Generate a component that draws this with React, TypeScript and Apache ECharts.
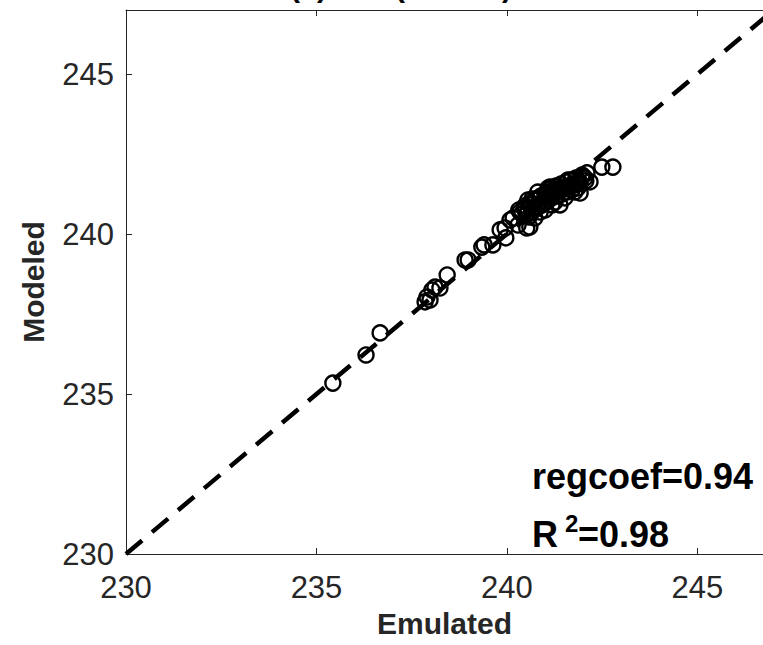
import React, { useEffect, useRef } from "react";
import * as echarts from "echarts";

const emulated = [
  235.43, 236.3, 236.67, 237.85, 237.9, 237.98, 238.03, 238.11, 238.24, 238.43,
  238.9, 238.98, 239.34, 239.4, 239.63, 239.82, 239.95, 239.97, 240.08, 240.16,
  240.29, 240.52, 240.6, 240.34, 240.45, 240.5, 240.6, 240.66, 240.73, 240.79,
  240.87, 240.92, 241.0, 241.05, 241.13, 241.18, 241.26, 241.31, 241.39, 241.44,
  241.52, 241.57, 241.65, 241.71, 241.78, 241.86, 241.92, 242.05, 242.1, 242.18,
  242.49, 242.78, 240.73, 241.0, 241.26, 241.08, 240.81, 240.55, 241.39, 241.92,
  240.66, 241.13, 241.6, 241.97,
  240.31, 240.39, 240.47, 240.55, 240.63, 240.71, 240.76, 240.84, 240.89, 240.97,
  241.02, 241.1, 241.15, 241.23, 241.29, 241.36, 241.42, 241.5, 241.55, 241.63,
  241.68, 241.76, 241.81, 241.89, 241.99, 242.07, 240.58, 240.87, 241.18, 241.52,
  241.78,
];
const modeled = [
  235.34, 236.22, 236.91, 237.88, 238.03, 237.94, 238.25, 238.34, 238.31, 238.72,
  239.19, 239.19, 239.59, 239.66, 239.66, 240.13, 240.19, 239.88, 240.44, 240.5,
  240.28, 240.19, 240.22, 240.69, 240.81, 240.59, 240.91, 240.69, 241.06, 240.81,
  241.13, 240.91, 241.22, 241.0, 241.31, 241.13, 241.38, 241.19, 241.44, 241.25,
  241.47, 241.31, 241.5, 241.38, 241.53, 241.44, 241.59, 241.75, 241.91, 241.63,
  242.09, 242.09, 240.5, 240.75, 241.0, 241.44, 241.31, 241.06, 240.91, 241.28,
  241.09, 241.47, 241.69, 241.84,
  240.75, 240.63, 240.88, 240.75, 240.97, 240.84, 241.09, 240.94, 241.19, 241.03,
  241.28, 241.16, 241.41, 241.25, 241.5, 241.34, 241.56, 241.41, 241.63, 241.47,
  241.69, 241.56, 241.75, 241.63, 241.81, 241.66, 240.53, 240.69, 240.91, 241.13,
  241.31,
];
const refLine = [
  [230, 230],
  [247, 247],
];
const xTicks = [230, 235, 240, 245];
const yTicks = [230, 235, 240, 245];
const xName = "Emulated";
const yName = "Modeled";
const regText = "regcoef=0.94";
const r2Value = "=0.98";

const FONT = "'Liberation Sans', Arial, Helvetica, sans-serif";
const AX = "#262626";

export default function App() {
  const ref = useRef<HTMLDivElement>(null);
  useEffect(() => {
    if (!ref.current) return;
    const chart = echarts.init(ref.current, undefined, { renderer: "svg" });
    const pts = emulated.map((x, i) => [x, modeled[i]]);
    const paren = (t: string, x: number) => ({
      type: "text",
      x,
      y: 1,
      style: { text: t, font: `bold 30px ${FONT}`, fill: "#000", align: "center", verticalAlign: "bottom" },
    });
    chart.setOption({
      animation: false,
      backgroundColor: "#fff",
      grid: { left: 126, top: 10, right: 0, bottom: 91 },
      xAxis: [
        {
          type: "value",
          min: 230,
          max: 246.72,
          interval: 5,
          position: "bottom",
          axisLine: { show: true, onZero: false, lineStyle: { color: AX, width: 1 } },
          axisTick: { show: true, inside: true, length: 6, lineStyle: { color: AX } },
          axisLabel: {
            show: true,
            color: AX,
            fontSize: 31,
            fontFamily: FONT,
            margin: 18,
            showMaxLabel: false,
            formatter: (v: number) => (xTicks.includes(v) ? String(v) : ""),
          },
          splitLine: { show: false },
          name: xName,
          nameLocation: "middle",
          nameGap: 54,
          nameTextStyle: { color: AX, fontSize: 30, fontWeight: "bold", fontFamily: FONT },
        },
        {
          type: "value",
          min: 230,
          max: 246.72,
          interval: 5,
          position: "top",
          axisLine: { show: true, onZero: false, lineStyle: { color: AX, width: 1 } },
          axisTick: { show: true, inside: true, length: 6, lineStyle: { color: AX } },
          axisLabel: { show: false },
          splitLine: { show: false },
        },
      ],
      yAxis: {
        type: "value",
        min: 230,
        max: 247,
        interval: 5,
        axisLine: { show: true, onZero: false, lineStyle: { color: AX, width: 1 } },
        axisTick: { show: true, inside: true, length: 6, lineStyle: { color: AX } },
        axisLabel: {
          show: true,
          color: AX,
          fontSize: 31,
          fontFamily: FONT,
          margin: 12,
          formatter: (v: number) => (yTicks.includes(v) ? String(v) : ""),
        },
        splitLine: { show: false },
        name: yName,
        nameLocation: "middle",
        nameGap: 78,
        nameTextStyle: { color: AX, fontSize: 30, fontWeight: "bold", fontFamily: FONT },
      },
      series: [
        {
          type: "line",
          data: refLine,
          symbol: "none",
          lineStyle: { color: "#000", width: 4.5, type: [21, 13] },
          z: 1,
        },
        {
          type: "scatter",
          data: pts,
          symbol: "circle",
          symbolSize: 15,
          itemStyle: { color: "rgba(0,0,0,0)", borderColor: "#000", borderWidth: 2.4, opacity: 1 },
          emphasis: { disabled: true },
          z: 2,
        },
      ],
      graphic: [
        paren("(", 295),
        paren(")", 322),
        paren("(", 400),
        paren(")", 507),
        {
          type: "text",
          x: 532,
          y: 476,
          z: 10,
          style: { text: regText, font: `bold 36px ${FONT}`, fill: "#000", align: "left", verticalAlign: "middle" },
        },
        {
          type: "text",
          x: 532,
          y: 534,
          z: 10,
          style: { text: "R", font: `bold 36px ${FONT}`, fill: "#000", align: "left", verticalAlign: "middle" },
        },
        {
          type: "text",
          x: 565,
          y: 523,
          z: 10,
          style: { text: "2", font: `bold 24px ${FONT}`, fill: "#000", align: "left", verticalAlign: "middle" },
        },
        {
          type: "text",
          x: 578,
          y: 534,
          z: 10,
          style: { text: r2Value, font: `bold 36px ${FONT}`, fill: "#000", align: "left", verticalAlign: "middle" },
        },
      ],
    });
    return () => chart.dispose();
  }, []);
  return <div ref={ref} style={{ width: 763, height: 645, position: "absolute", left: 0, top: 0 }} />;
}
